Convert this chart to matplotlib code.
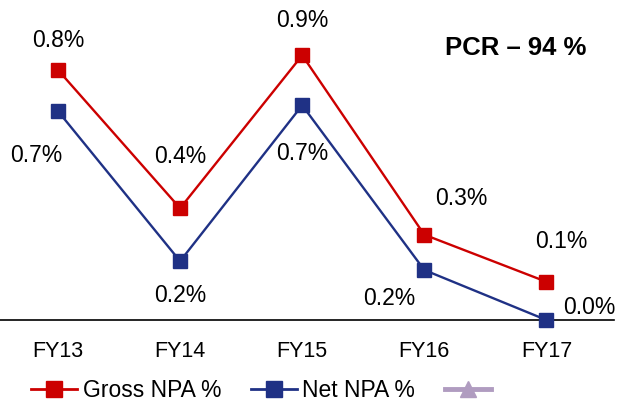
import numpy as np
import matplotlib
matplotlib.use('Agg')
import matplotlib.pyplot as plt
from matplotlib.lines import Line2D

years = ['FY13', 'FY14', 'FY15', 'FY16', 'FY17']
gross_npa = [0.85, 0.38, 0.90, 0.29, 0.13]
net_npa = [0.71, 0.20, 0.73, 0.17, 0.00]

RED = '#CC0000'
NAVY = '#1F3185'
LILAC = '#B09CC0'

plt.rcParams['font.family'] = ['Liberation Sans', 'DejaVu Sans']

fig = plt.figure(figsize=(6.21, 4.01), dpi=100)
ax = fig.add_axes([0.0, 0.202, 0.988, 0.798])

x = np.arange(len(years))
ax.plot(x, gross_npa, color=RED, lw=1.7, marker='s', ms=10.5, clip_on=False, zorder=3)
ax.plot(x, net_npa, color=NAVY, lw=1.7, marker='s', ms=10.5, clip_on=False, zorder=3)

# label offsets in pixels (dx, dy)
g_off = [(0, 29), (0, 52), (0, 35), (37, 36), (15, 40)]
n_off = [(-22, -44), (0, -34), (0, -48), (-35, -29), (43, 12)]
for i in range(len(years)):
    ax.annotate('%.1f%%' % gross_npa[i], (x[i], gross_npa[i]), xytext=g_off[i],
                textcoords='offset pixels', ha='center', va='center', fontsize=16.5)
    ax.annotate('%.1f%%' % net_npa[i], (x[i], net_npa[i]), xytext=n_off[i],
                textcoords='offset pixels', ha='center', va='center', fontsize=16.5)

ax.set_xlim(-0.475, 4.55)
ax.set_ylim(0, 1.088)
for s in ['top', 'right', 'left']:
    ax.spines[s].set_visible(False)
ax.spines['bottom'].set_color('black')
ax.spines['bottom'].set_linewidth(1.2)
ax.set_yticks([])
ax.set_xticks(x)
ax.set_xticklabels(years, fontsize=15.5)
ax.tick_params(axis='x', length=0, pad=15)
ax.patch.set_alpha(0)

fig.text(0.831, 0.88, 'PCR \u2013 94 %', fontsize=18.5, fontweight='bold', ha='center', va='center')

handles = [
    Line2D([0], [0], color=RED, lw=2, marker='s', ms=11, label='Gross NPA %'),
    Line2D([0], [0], color=NAVY, lw=2, marker='s', ms=11, label='Net NPA %'),
    Line2D([0], [0], color=LILAC, lw=3.5, marker='^', ms=12, label=' '),
]
fig.legend(handles=handles, loc='center', bbox_to_anchor=(0.43, 0.027), ncol=3, frameon=False,
           fontsize=16.5, handlelength=2.0, columnspacing=1.3, handletextpad=0.25,
           borderaxespad=0, borderpad=0)

fig.savefig('out.png', dpi=100)
